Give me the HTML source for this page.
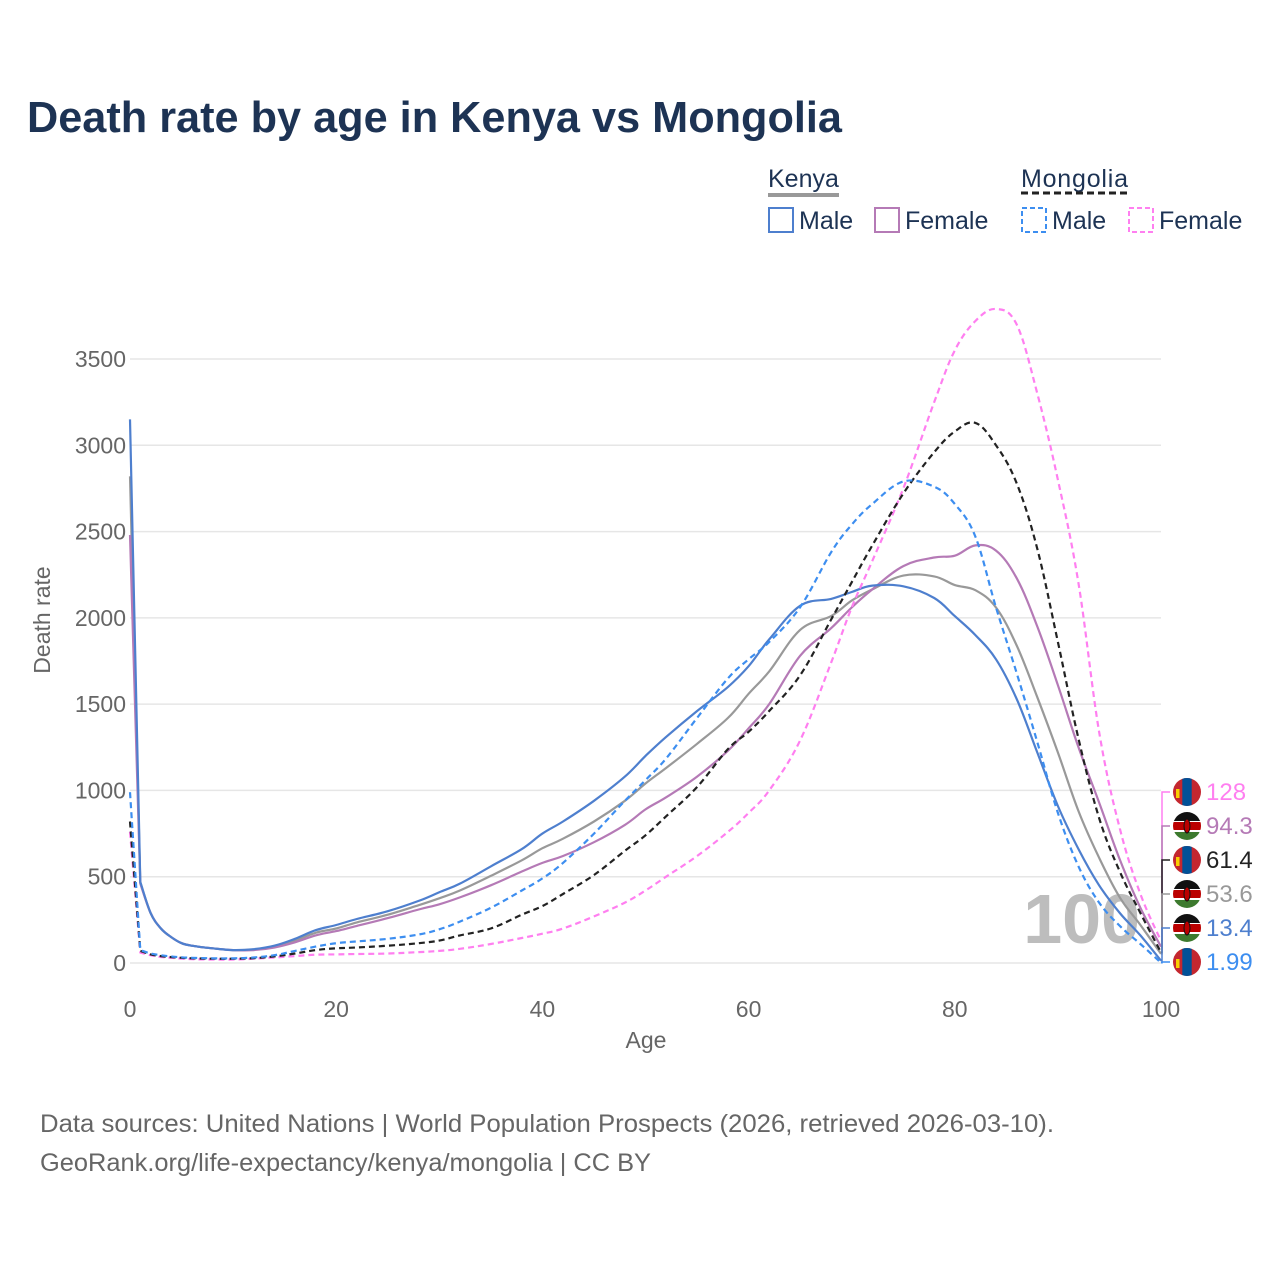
<!DOCTYPE html>
<html><head><meta charset="utf-8">
<style>
html,body{margin:0;padding:0;background:#fff;}
body{width:1280px;height:1280px;overflow:hidden;font-family:"Liberation Sans",sans-serif;}
</style></head>
<body>
<svg id="chart" width="1280" height="1280" viewBox="0 0 1280 1280" xmlns="http://www.w3.org/2000/svg" font-family="Liberation Sans, sans-serif">
  <rect width="1280" height="1280" fill="#fff"/>
  <text x="27" y="132" font-size="44" font-weight="bold" fill="#1d3354" textLength="815" lengthAdjust="spacingAndGlyphs">Death rate by age in Kenya vs Mongolia</text>

  <g font-size="25" fill="#1d3354">
    <text x="768" y="187">Kenya</text>
    <line x1="768" y1="195" x2="839" y2="195" stroke="#999" stroke-width="4"/>
    <text x="1021" y="187" textLength="107">Mongolia</text>
    <line x1="1021" y1="193" x2="1128" y2="193" stroke="#222" stroke-width="3" stroke-dasharray="7,4"/>
    <g>
      <rect x="769" y="208" width="24" height="24" fill="none" stroke="#4e7fce" stroke-width="2"/>
      <text x="799" y="229">Male</text></g>
    <g>
      <rect x="875" y="208" width="24" height="24" fill="none" stroke="#b57ab6" stroke-width="2"/>
      <text x="905" y="229">Female</text></g>
    <g>
      <rect x="1022" y="208" width="24" height="24" fill="none" stroke="#3d8ef0" stroke-width="2" stroke-dasharray="5,3"/>
      <text x="1052" y="229">Male</text></g>
    <g>
      <rect x="1129" y="208" width="24" height="24" fill="none" stroke="#ff7ff0" stroke-width="2" stroke-dasharray="5,3"/>
      <text x="1159" y="229">Female</text></g>
  </g>

  <g id="grid"></g>
  <g id="yticks" font-size="23" fill="#666" text-anchor="end"></g>
  <g id="xticks" font-size="23" fill="#666" text-anchor="middle"></g>
  <text x="646" y="1048" font-size="23" fill="#666" text-anchor="middle">Age</text>
  <text transform="translate(50,620) rotate(-90)" font-size="23" fill="#666" text-anchor="middle">Death rate</text>
  <text x="1140" y="943" font-size="70" font-weight="bold" fill="#bdbdbd" text-anchor="end">100</text>

  <defs>
    <clipPath id="fc"><circle cx="0" cy="0" r="14"/></clipPath>
  </defs>
  <g id="series"></g>
  <g id="endlabels" font-size="24"></g>

  <text x="40" y="1132" font-size="25" fill="#666" textLength="1014" lengthAdjust="spacingAndGlyphs">Data sources: United Nations | World Population Prospects (2026, retrieved 2026-03-10).</text>
  <text x="40" y="1171" font-size="25" fill="#666" textLength="611" lengthAdjust="spacingAndGlyphs">GeoRank.org/life-expectancy/kenya/mongolia | CC BY</text>
</svg>
<script>
const ages = [0,1,2,3,4,5,6,8,10,12,14,16,18,20,22,25,28,30,32,35,38,40,42,45,48,50,52,55,58,60,62,65,68,70,72,75,78,80,82,84,86,88,90,92,94,96,98,100];
const kenyaMale = [3150,470,290,200,150,115,100,85,75,80,100,140,190,220,255,300,360,410,460,560,660,750,820,940,1080,1200,1310,1460,1600,1720,1875,2070,2110,2150,2187,2183,2115,2010,1900,1760,1530,1220,910,660,450,290,160,13.4];
const kenyaFemale = [2480,460,290,200,150,115,100,85,75,75,90,120,160,185,215,260,310,340,380,450,530,580,620,700,800,890,960,1080,1230,1360,1500,1780,1940,2060,2165,2300,2350,2360,2420,2390,2230,1950,1610,1250,930,600,320,94.3];
const kenyaBoth = [2820,465,290,200,150,115,100,85,75,78,95,130,175,200,235,280,335,375,420,505,595,665,720,820,940,1040,1130,1270,1420,1560,1690,1930,2010,2100,2165,2245,2240,2190,2160,2060,1840,1540,1220,880,610,380,220,53.6];
const mongoliaMale = [990,75,55,45,38,33,30,27,27,32,45,70,95,115,125,140,165,195,240,320,420,490,580,750,940,1060,1185,1420,1650,1760,1860,2062,2380,2540,2660,2790,2760,2660,2470,2060,1680,1280,870,560,350,215,110,1.99];
const mongoliaBoth = [820,70,50,40,34,30,27,25,25,28,38,55,75,85,90,100,115,130,160,200,280,330,400,510,650,740,850,1020,1240,1340,1460,1667,1990,2206,2420,2720,2960,3080,3130,3000,2780,2400,1860,1300,840,530,290,61.4];
const mongoliaFemale = [760,60,45,35,30,25,22,20,20,25,32,40,48,50,52,55,63,70,82,110,145,170,200,270,350,420,500,620,760,870,1000,1290,1740,2060,2330,2750,3250,3550,3720,3790,3700,3300,2800,2200,1340,780,400,128];
const yTicks = [0,500,1000,1500,2000,2500,3000,3500];
const xTicks = [0,20,40,60,80,100];
const endValues = ["128","94.3","61.4","53.6","13.4","1.99"];

const NS = "http://www.w3.org/2000/svg";
const X0=130, X1=1161, Y0=963, PXU=604/3500;
function xs(a){return X0+(a/100)*(X1-X0);}
function ys(v){return Y0-v*PXU;}
function mk(t,attrs,parent){const e=document.createElementNS(NS,t);for(const k in attrs)e.setAttribute(k,attrs[k]);parent.appendChild(e);return e;}
function smoothPath(P){
  let d='M'+P[0][0].toFixed(1)+','+P[0][1].toFixed(1)+' L'+P[1][0].toFixed(1)+','+P[1][1].toFixed(1);
  for(let i=1;i<P.length-1;i++){
    const p0=P[Math.max(1,i-1)],p1=P[i],p2=P[i+1],p3=P[Math.min(P.length-1,i+2)];
    const t=0.18;
    const c1x=p1[0]+(p2[0]-p0[0])*t, c1y=p1[1]+(p2[1]-p0[1])*t;
    const c2x=p2[0]-(p3[0]-p1[0])*t, c2y=p2[1]-(p3[1]-p1[1])*t;
    d+=' C'+c1x.toFixed(1)+','+c1y.toFixed(1)+' '+c2x.toFixed(1)+','+c2y.toFixed(1)+' '+p2[0].toFixed(1)+','+p2[1].toFixed(1);
  }
  return d;
}

const grid=document.getElementById('grid'), yt=document.getElementById('yticks'), xt=document.getElementById('xticks');
yTicks.forEach(v=>{
  const l=mk('line',{x1:X0,x2:X1,y1:ys(v),y2:ys(v),stroke:'#e6e6e6','stroke-width':1.5},grid);
  
  
  const t=mk('text',{x:126,y:ys(v)+8},yt);t.textContent=v;
  
  
});
xTicks.forEach(v=>{
  const t=mk('text',{x:xs(v),y:1017},xt);t.textContent=v;
  
  
});

const sg=document.getElementById('series');
const series=[
  {d:kenyaBoth,c:'#999',dash:null,n:'line-kenya-both'},
  {d:kenyaFemale,c:'#b57ab6',dash:null,n:'line-kenya-female'},
  {d:kenyaMale,c:'#4e7fce',dash:null,n:'line-kenya-male'},
  {d:mongoliaFemale,c:'#ff7ff0',dash:'6,4',n:'line-mongolia-female'},
  {d:mongoliaBoth,c:'#222',dash:'6,4',n:'line-mongolia-both'},
  {d:mongoliaMale,c:'#3d8ef0',dash:'6,4',n:'line-mongolia-male'}
];
series.forEach(s=>{
  const P=ages.map((a,i)=>[xs(a),ys(s.d[i])]);
  const p=mk('path',{d:smoothPath(P),fill:'none',stroke:s.c,'stroke-width':2.2,'stroke-linejoin':'round'},sg);
  if(s.dash)p.setAttribute('stroke-dasharray',s.dash);
  
  
});

const el=document.getElementById('endlabels');
const labels=[
  {c:'#ff7ff0',f:'mn',d:mongoliaFemale},
  {c:'#b57ab6',f:'ke',d:kenyaFemale},
  {c:'#222',f:'mn',d:mongoliaBoth},
  {c:'#999',f:'ke',d:kenyaBoth},
  {c:'#4e7fce',f:'ke',d:kenyaMale},
  {c:'#3d8ef0',f:'mn',d:mongoliaMale}
];
labels.forEach((L,i)=>{
  const y=792+i*34;
  const last=L.d[L.d.length-1];
  const br=mk('polyline',{points:`${X1},${ys(last).toFixed(1)} ${X1+1},${ys(last).toFixed(1)} ${X1+1},${y} ${X1+9},${y}`,fill:'none',stroke:L.c,'stroke-width':1.5},el);
  
  
  const g=mk('g',{transform:`translate(1187,${y})`},el);
  
  
  const cg=mk('g',{'clip-path':'url(#fc)'},g);
  if(L.f==='mn'){
    mk('rect',{x:-14,y:-14,width:28,height:28,fill:'#c4272f'},cg);
    mk('rect',{x:-4.7,y:-14,width:9.4,height:28,fill:'#015197'},cg);
    mk('rect',{x:-11,y:-3,width:3.5,height:9,fill:'#f9cf02'},cg);
  } else {
    mk('rect',{x:-14,y:-14,width:28,height:28,fill:'#fff'},cg);
    mk('rect',{x:-14,y:-14,width:28,height:9,fill:'#111'},cg);
    mk('rect',{x:-14,y:-4,width:28,height:8,fill:'#b00'},cg);
    mk('rect',{x:-14,y:6,width:28,height:8,fill:'#3d7a2e'},cg);
    mk('ellipse',{cx:0,cy:0,rx:3,ry:7,fill:'#b00',stroke:'#111','stroke-width':1},cg);
  }
  const t=mk('text',{x:1206,y:y+8,fill:L.c},el);t.textContent=endValues[i];
  
  
});
</script>
</body></html>
